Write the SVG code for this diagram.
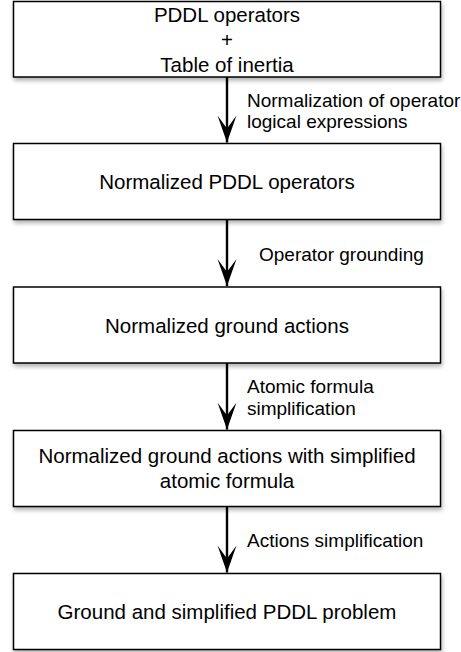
<svg xmlns="http://www.w3.org/2000/svg" width="461" height="652" viewBox="0 0 461 652">
<defs>
<filter id="sh" x="-5%" y="-10%" width="112%" height="130%">
<feGaussianBlur in="SourceAlpha" stdDeviation="2"/>
<feOffset dx="1" dy="3" result="b"/>
<feComponentTransfer in="b" result="c"><feFuncA type="linear" slope="0.3"/></feComponentTransfer>
<feMerge><feMergeNode in="c"/><feMergeNode in="SourceGraphic"/></feMerge>
</filter>
<marker id="ah" markerUnits="userSpaceOnUse" markerWidth="28" markerHeight="20" refX="27" refY="10" orient="auto" viewBox="0 0 28 20">
<path d="M0,0.5 L13,10 L0,19.5 L27,10 Z" fill="#000"/>
</marker>
<style>
.box{fill:#fff;stroke:#000;stroke-width:1.5;filter:url(#sh)}
.t{font-family:"Liberation Sans",Arial,Helvetica,sans-serif;font-size:20.5px;fill:#000;text-anchor:middle}
.l{font-family:"Liberation Sans",Arial,Helvetica,sans-serif;font-size:19px;fill:#000}
.c{stroke:#000;stroke-width:2.4;fill:none;marker-end:url(#ah)}
</style>
</defs>
<rect width="461" height="652" fill="#fff"/>
<g id="n1">
<rect class="box" x="13.5" y="1.5" width="427" height="75.5"/>
<text class="t" x="227" y="22">PDDL operators</text>
<text class="t" x="227" y="47">+</text>
<text class="t" x="227" y="72">Table of inertia</text>
</g>
<g id="n2">
<rect class="box" x="13.5" y="143.5" width="427" height="76"/>
<text class="t" x="227" y="189">Normalized PDDL operators</text>
</g>
<g id="n3">
<rect class="box" x="13.5" y="287" width="427" height="76"/>
<text class="t" x="227" y="332.5">Normalized ground actions</text>
</g>
<g id="n4">
<rect class="box" x="13.5" y="430.5" width="427" height="76"/>
<text class="t" x="227" y="463">Normalized ground actions with simplified</text>
<text class="t" x="227" y="488">atomic formula</text>
</g>
<g id="n5">
<rect class="box" x="13.5" y="573.5" width="427" height="76"/>
<text class="t" x="227" y="618.5">Ground and simplified PDDL problem</text>
</g>
<g id="connectors">
<path class="c" d="M227,77 L227,142.5"/>
<path class="c" d="M227,219.5 L227,286"/>
<path class="c" d="M227,363 L227,429.5"/>
<path class="c" d="M227,506.5 L227,572.5"/>
<text class="l" x="247" y="107">Normalization of operator</text>
<text class="l" x="247" y="127.5">logical expressions</text>
<text class="l" x="259" y="261">Operator grounding</text>
<text class="l" x="247" y="393">Atomic formula</text>
<text class="l" x="247" y="414.5">simplification</text>
<text class="l" x="247" y="547">Actions simplification</text>
</g>
</svg>
